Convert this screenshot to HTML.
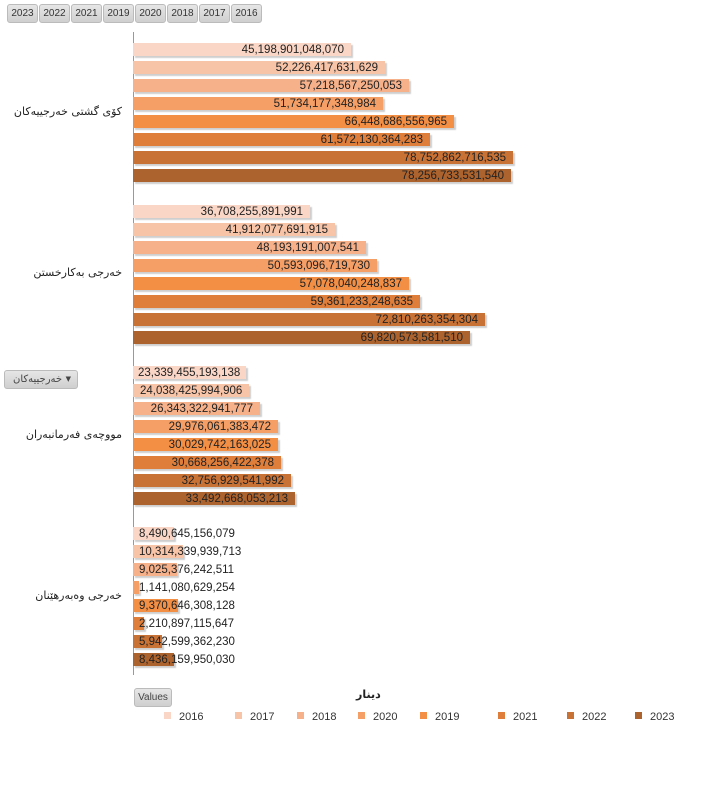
<!DOCTYPE html>
<html><head><meta charset="utf-8"><style>
body{margin:0;width:712px;height:810px;background:#fff;position:relative;overflow:hidden;font-family:"Liberation Sans","DejaVu Sans",sans-serif}
.btn{position:absolute;top:4px;height:17px;background:linear-gradient(#e6e6e6,#cfcfcf);border:1px solid #bbb;border-radius:3px;font-size:10px;color:#333;line-height:17px;text-align:center;width:29px}
.axis{position:absolute;left:133px;top:32px;width:1px;height:643px;background:#999}
.b{position:absolute;left:133px;height:13px;box-shadow:2px 2px 1px #cfcfcf}
.l{position:absolute;font-size:11.5px;color:#222;line-height:13px;white-space:nowrap;margin-top:1px}
.cat{position:absolute;right:590px;font-size:11px;color:#222;direction:rtl;font-family:"DejaVu Sans",sans-serif;white-space:nowrap}
.c0{background:#fad6c6}.c1{background:#f8c4a8}.c2{background:#f6b18b}.c3{background:#f59f66}.c4{background:#f28f45}.c5{background:#de7e3a}.c6{background:#c87236}.c7{background:#ad632d}
.lg{position:absolute;top:711px;font-size:11px;color:#333}
.lg i{display:inline-block;width:7px;height:7px;margin-right:8px;vertical-align:1px}
</style></head><body>
<div class="btn" style="left:7px">2023</div><div class="btn" style="left:39px">2022</div><div class="btn" style="left:71px">2021</div><div class="btn" style="left:103px">2019</div><div class="btn" style="left:135px">2020</div><div class="btn" style="left:167px">2018</div><div class="btn" style="left:199px">2017</div><div class="btn" style="left:231px">2016</div>
<div class="axis"></div>

<div class="cat" style="top:105px">کۆی گشتی خەرجییەکان</div>
<div class="cat" style="top:266px">خەرجی بەکارخستن</div>
<div class="cat" style="top:428px">مووچەی فەرمانبەران</div>
<div class="cat" style="top:589px">خەرجی وەبەرهێنان</div>

<div style="position:absolute;left:4px;top:370px;width:72px;height:17px;background:linear-gradient(#e6e6e6,#cfcfcf);border:1px solid #bbb;border-radius:3px;font-size:10px;color:#444;line-height:17px;font-family:'DejaVu Sans',sans-serif"><span style="position:absolute;left:8px">خەرجییەکان</span><span style="position:absolute;right:6px;font-size:7px">▼</span></div>

<div class="b c0" style="top:43px;width:218px"></div><div class="l" style="top:43px;right:368px">45,198,901,048,070</div>
<div class="b c1" style="top:61px;width:252px"></div><div class="l" style="top:61px;right:334px">52,226,417,631,629</div>
<div class="b c2" style="top:79px;width:276px"></div><div class="l" style="top:79px;right:310px">57,218,567,250,053</div>
<div class="b c3" style="top:97px;width:250px"></div><div class="l" style="top:97px;right:336px">51,734,177,348,984</div>
<div class="b c4" style="top:115px;width:321px"></div><div class="l" style="top:115px;right:265px">66,448,686,556,965</div>
<div class="b c5" style="top:133px;width:297px"></div><div class="l" style="top:133px;right:289px">61,572,130,364,283</div>
<div class="b c6" style="top:151px;width:380px"></div><div class="l" style="top:151px;right:206px">78,752,862,716,535</div>
<div class="b c7" style="top:169px;width:378px"></div><div class="l" style="top:169px;right:208px">78,256,733,531,540</div>

<div class="b c0" style="top:205px;width:177px"></div><div class="l" style="top:205px;right:409px">36,708,255,891,991</div>
<div class="b c1" style="top:223px;width:202px"></div><div class="l" style="top:223px;right:384px">41,912,077,691,915</div>
<div class="b c2" style="top:241px;width:233px"></div><div class="l" style="top:241px;right:353px">48,193,191,007,541</div>
<div class="b c3" style="top:259px;width:244px"></div><div class="l" style="top:259px;right:342px">50,593,096,719,730</div>
<div class="b c4" style="top:277px;width:276px"></div><div class="l" style="top:277px;right:310px">57,078,040,248,837</div>
<div class="b c5" style="top:295px;width:287px"></div><div class="l" style="top:295px;right:299px">59,361,233,248,635</div>
<div class="b c6" style="top:313px;width:352px"></div><div class="l" style="top:313px;right:234px">72,810,263,354,304</div>
<div class="b c7" style="top:331px;width:337px"></div><div class="l" style="top:331px;right:249px">69,820,573,581,510</div>

<div class="b c0" style="top:366px;width:113px"></div><div class="l" style="top:366px;left:138px">23,339,455,193,138</div>
<div class="b c1" style="top:384px;width:116px"></div><div class="l" style="top:384px;left:140px">24,038,425,994,906</div>
<div class="b c2" style="top:402px;width:127px"></div><div class="l" style="top:402px;right:459px">26,343,322,941,777</div>
<div class="b c3" style="top:420px;width:145px"></div><div class="l" style="top:420px;right:441px">29,976,061,383,472</div>
<div class="b c4" style="top:438px;width:145px"></div><div class="l" style="top:438px;right:441px">30,029,742,163,025</div>
<div class="b c5" style="top:456px;width:148px"></div><div class="l" style="top:456px;right:438px">30,668,256,422,378</div>
<div class="b c6" style="top:474px;width:158px"></div><div class="l" style="top:474px;right:428px">32,756,929,541,992</div>
<div class="b c7" style="top:492px;width:162px"></div><div class="l" style="top:492px;right:424px">33,492,668,053,213</div>

<div class="b c0" style="top:527px;width:41px"></div><div class="l" style="top:527px;left:139px">8,490,645,156,079</div>
<div class="b c1" style="top:545px;width:50px"></div><div class="l" style="top:545px;left:139px">10,314,339,939,713</div>
<div class="b c2" style="top:563px;width:44px"></div><div class="l" style="top:563px;left:139px">9,025,376,242,511</div>
<div class="b c3" style="top:581px;width:6px"></div><div class="l" style="top:581px;left:139px">1,141,080,629,254</div>
<div class="b c4" style="top:599px;width:45px"></div><div class="l" style="top:599px;left:139px">9,370,646,308,128</div>
<div class="b c5" style="top:617px;width:11px"></div><div class="l" style="top:617px;left:139px">2,210,897,115,647</div>
<div class="b c6" style="top:635px;width:29px"></div><div class="l" style="top:635px;left:139px">5,942,599,362,230</div>
<div class="b c7" style="top:653px;width:41px"></div><div class="l" style="top:653px;left:139px">8,436,159,950,030</div>

<div style="position:absolute;left:134px;top:688px;width:36px;height:17px;background:linear-gradient(#e6e6e6,#cfcfcf);border:1px solid #bbb;border-radius:3px;font-size:10px;color:#444;line-height:17px;text-align:center">Values</div>
<div style="position:absolute;left:356px;top:688px;font-size:11px;font-weight:bold;color:#222;font-family:'DejaVu Sans',sans-serif">دینار</div>

<div class="lg" style="left:164px"><i class="c0"></i>2016</div>
<div class="lg" style="left:235px"><i class="c1"></i>2017</div>
<div class="lg" style="left:297px"><i class="c2"></i>2018</div>
<div class="lg" style="left:358px"><i class="c3"></i>2020</div>
<div class="lg" style="left:420px"><i class="c4"></i>2019</div>
<div class="lg" style="left:498px"><i class="c5"></i>2021</div>
<div class="lg" style="left:567px"><i class="c6"></i>2022</div>
<div class="lg" style="left:635px"><i class="c7"></i>2023</div>
</body></html>
